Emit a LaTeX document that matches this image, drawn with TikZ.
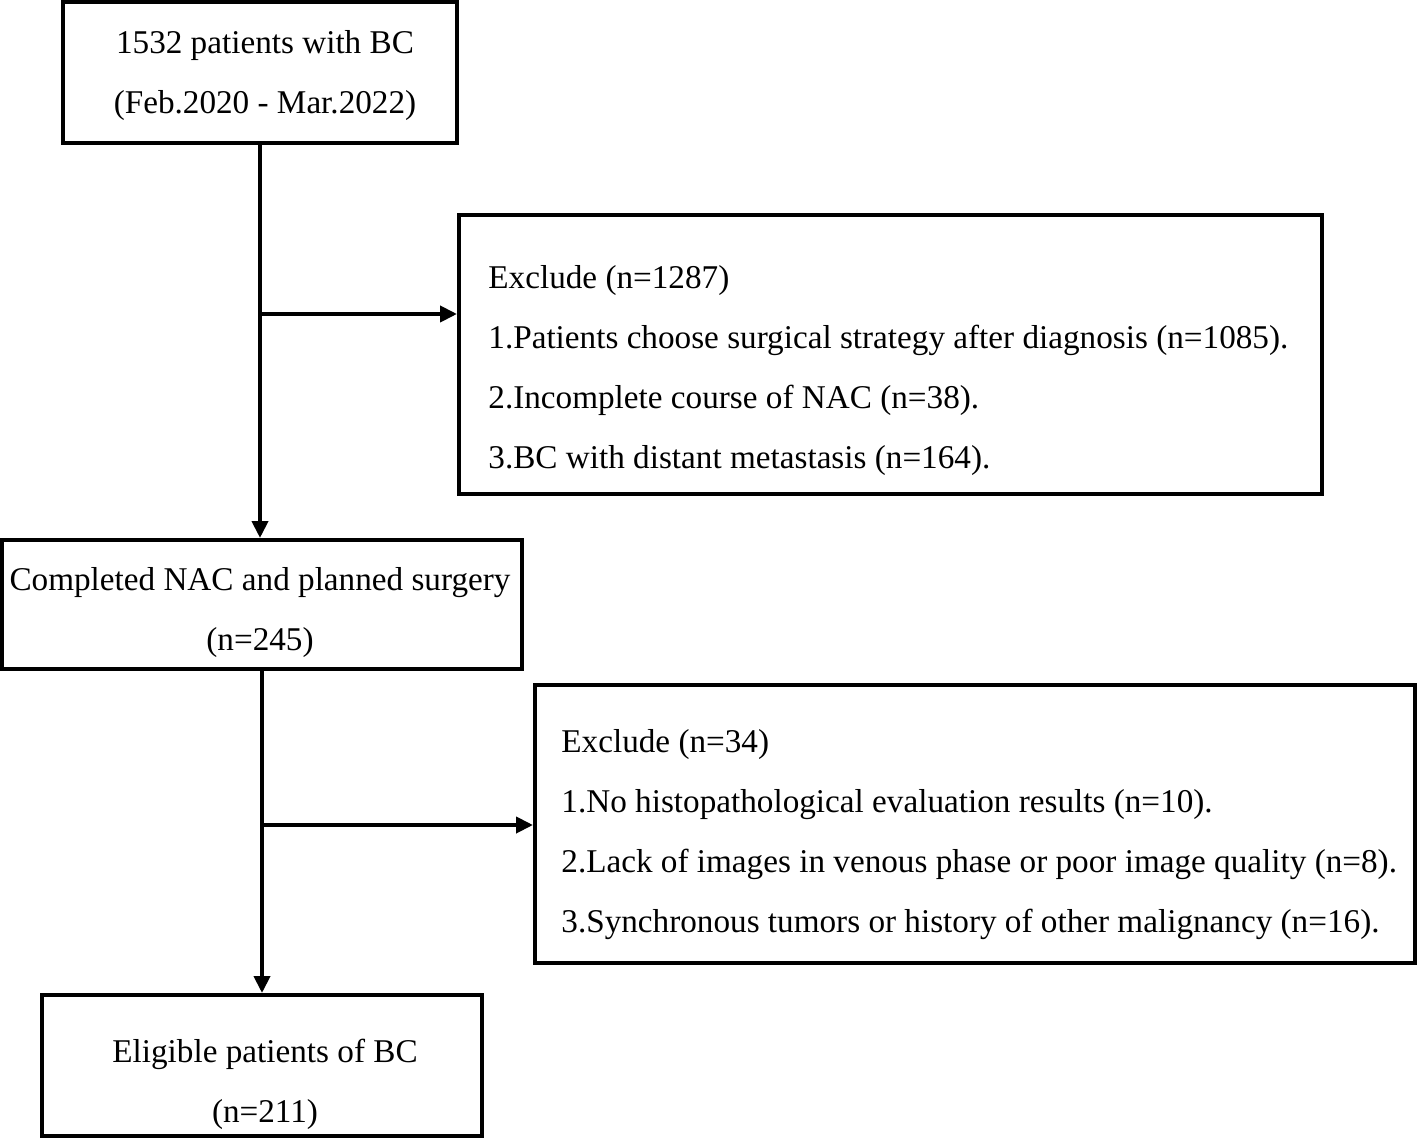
\documentclass[tikz,border=0pt]{standalone}
\usepackage{fontspec}
\setmainfont{Liberation Serif}
\usetikzlibrary{arrows.meta,calc}
\begin{document}
\begin{tikzpicture}[x=0.5pt,y=-0.5pt,
  box/.style={draw,line width=2pt,inner sep=0pt,outer sep=0pt,rectangle},
  txt/.style={inner sep=0pt,font=\fontsize{16.6pt}{30pt}\selectfont},
  conn/.style={line width=2pt,-{Triangle[length=8.5pt,width=8pt]},shorten >=1pt}]
\useasboundingbox (0,0) rectangle (1417,1138);
% boxes
\node[box,minimum width=197pt,minimum height=70.5pt] (b1) at (260,72.5) {};
\node[box,minimum width=260pt,minimum height=64.5pt] (b2) at (262,604.5) {};
\node[box,minimum width=220pt,minimum height=70.5pt] (b3) at (262,1065.5) {};
\node[box,minimum width=431.5pt,minimum height=139.5pt] (e1) at (890.5,354.5) {};
\node[box,minimum width=440pt,minimum height=139pt] (e2) at (975,824) {};
% texts
\node[txt,align=center] (t1) at (265,76) {1532 patients with BC\\(Feb.2020 - Mar.2022)};
\node[txt,align=center] (t2) at (260,613) {Completed NAC and planned surgery\\(n=245)};
\node[txt,align=center] (t3) at (265,1084) {Eligible patients of BC\\(n=211)};
\node[txt,align=left,anchor=west] (te1) at (488,371) {Exclude (n=1287)\\1.Patients choose surgical strategy after diagnosis (n=1085).\\2.Incomplete course of NAC (n=38).\\3.BC with distant metastasis (n=164).};
\node[txt,align=left,anchor=west] (te2) at (561,835) {Exclude (n=34)\\1.No histopathological evaluation results (n=10).\\2.Lack of images in venous phase or poor image quality (n=8).\\3.Synchronous tumors or history of other malignancy (n=16).};
% connectors
\draw[conn] (b1.south) -- (b1.south |- b2.north);
\coordinate (j1) at (260,314);
\draw[conn] (j1) -- (j1 -| e1.west);
\draw[conn] (b2.south) -- (b2.south |- b3.north);
\coordinate (j2) at (262,825);
\draw[conn] (j2) -- (j2 -| e2.west);
\end{tikzpicture}
\end{document}
